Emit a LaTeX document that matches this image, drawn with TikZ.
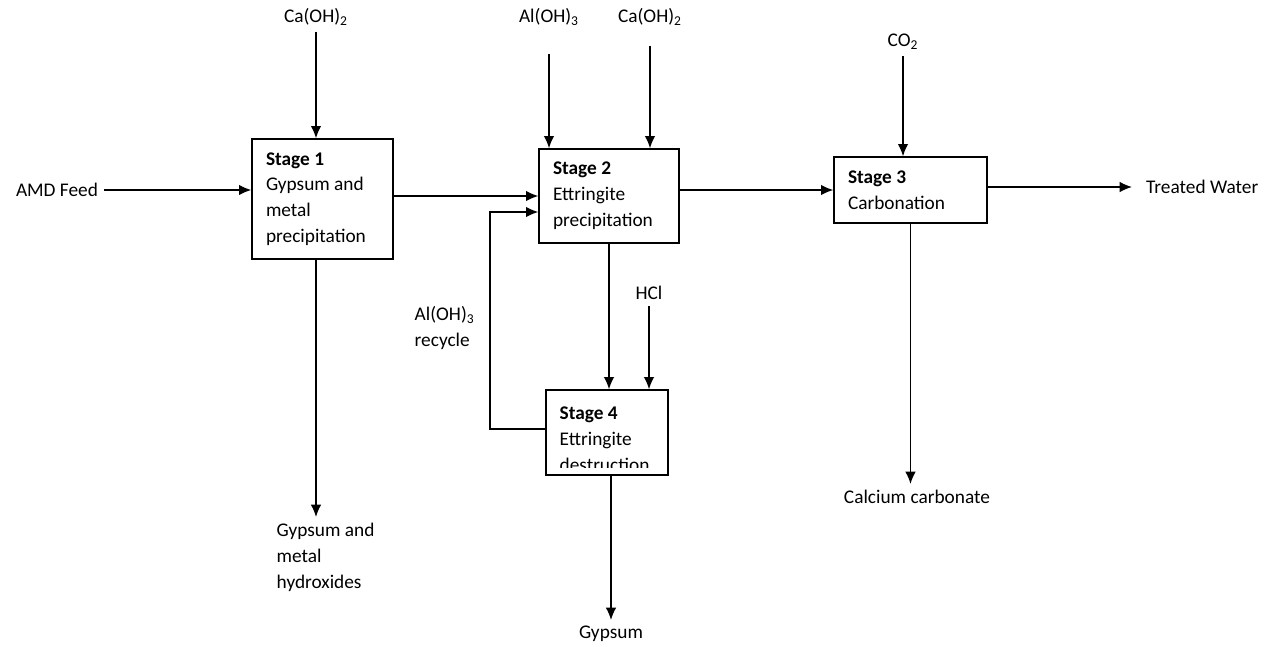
\documentclass[tikz,border=0pt]{standalone}
\usepackage{fontspec}
\setmainfont{Carlito}
\usetikzlibrary{arrows.meta,positioning}

\tikzset{
  stagebox/.style={draw, line width=0.8pt, align=flush left, inner xsep=0.28cm, inner ysep=0pt},
  stagetext/.style={align=flush left, inner xsep=0.28cm, inner ysep=0.35cm},
  flow/.style={->, line width=0.8pt},
  lbl/.style={align=flush left}
}

\begin{document}
\begin{tikzpicture}[x=0.02cm, y=-0.02cm, >={Latex[length=7pt,width=6pt]},
    font=\fontsize{11}{14.7}\selectfont]
\useasboundingbox (0,0) rectangle (1268,646);

% Stage boxes
\node[stagebox, text width=2.26cm, minimum height=2.4cm] (s1) at (322.5,199)
    {\textbf{Stage 1}\\Gypsum and\\metal\\precipitation};
\node[stagebox, text width=2.24cm, minimum height=1.88cm] (s2) at (609,196)
    {\textbf{Stage 2}\\Ettringite\\precipitation};
\node[stagebox, text width=2.5cm, minimum height=1.32cm] (s3) at (910.5,190)
    {\textbf{Stage 3}\\Carbonation};
\node[draw, line width=0.8pt, minimum width=2.44cm, minimum height=1.7cm] (s4) at (607,432.5) {};
\begin{scope}
  \clip (s4.north west) rectangle ([yshift=0.16cm]s4.south east);
  \node[stagetext, anchor=north west, text width=1.88cm] at (s4.north west)
      {\textbf{Stage 4}\\Ettringite\\destruction};
\end{scope}

% Feeds and products
\node (ca1) at (316,17) {Ca(OH)\textsubscript{2}};
\node (al1) at (549,17) {Al(OH)\textsubscript{3}};
\node (ca2) at (650,17) {Ca(OH)\textsubscript{2}};
\node (co2) at (903,42) {CO\textsubscript{2}};
\node (hcl) at (649,293) {HCl};
\node (amd) at (57,190) {AMD Feed};
\node[anchor=west] (tw) at (1140,187) {Treated Water};
\node[lbl, anchor=north west] (hyd) at (270.5,517) {Gypsum and\\metal\\hydroxides};
\node[lbl, anchor=north west] (rec) at (408.5,300) {Al(OH)\textsubscript{3}\\recycle};
\node (gyp) at (611,634) {Gypsum};
\node (cc) at (917,497) {Calcium carbonate};

% Reagent inlets
\draw[flow] (ca1.south) -- (ca1.south |- s1.north);
\draw[flow, shorten <=0.44cm] (al1.south) -- (al1.south |- s2.north);
\draw[flow, shorten <=0.28cm] (ca2.south) -- (ca2.south |- s2.north);
\draw[flow] (co2.south) -- (co2.south |- s3.north);
\draw[flow] (hcl.south) -- (hcl.south |- s4.north);

% Main stream
\draw[flow] (amd.east) -- (amd.east -| s1.west);
\draw[flow] (s1.east |- s2.west) -- (s2.west);
\draw[flow] (s2.east |- s3.west) -- (s3.west);
\draw[flow] (s3.east |- tw.west) -- ([xshift=-0.16cm]tw.west);

% Solids out
\draw[flow] (s1.south -| ca1) -- (ca1 |- hyd.north);
\draw[flow] (s2.south) -- (s2.south |- s4.north);
\draw[flow] (s4.south -| gyp) -- (gyp.north);
\draw[flow] (s3.south) -- (s3.south |- cc.north);

% Al(OH)3 recycle loop
\coordinate (rc) at (490,212);
\draw[flow] (s4.west |- 0,429) -| (rc) -- (rc -| s2.west);
\end{tikzpicture}
\end{document}
